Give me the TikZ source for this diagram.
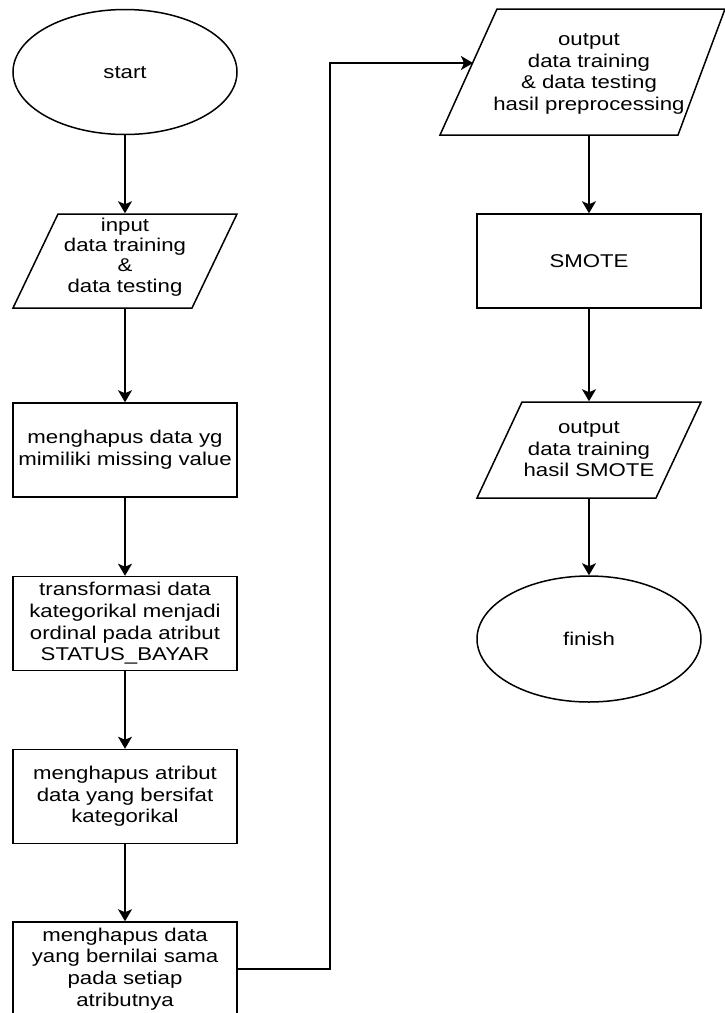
\documentclass[tikz,border=0pt]{standalone}
\usepackage{fontspec}
\setmainfont{Liberation Sans}[FakeStretch=1.2]
\usetikzlibrary{arrows.meta,shapes.geometric,calc}
\newcommand{\linestrut}{\rule[-3.9pt]{0pt}{20.6pt}}
\begin{document}
\begin{tikzpicture}[x=1pt,y=-1pt,
  line width=1.5pt,
  every node/.style={font=\fontsize{18.5}{21.7}\selectfont, align=center, inner sep=0pt, text=black,
    execute at begin node=\linestrut, execute at end node=\linestrut},
  procbox/.style={draw, rectangle, minimum width=224pt, minimum height=94pt},
  term/.style={draw, ellipse, minimum width=224pt, minimum height=125pt},
  ghost/.style={rectangle, minimum width=#1, minimum height=94pt},
  arr/.style={-{Stealth[length=12pt,width=14pt,inset=3pt]}}]
\useasboundingbox (0,0) rectangle (725,1013);
\clip (0,0) rectangle (725,1013);
\fill[white] (0,0) rectangle (725,1013);

% left column
\node[term] (start) at (125,72) {start};

\draw (58,214) -- (237,214) -- (192,308) -- (13,308) -- cycle;
\node[ghost=224pt] (in) at (125,261) {};
\node[font=\fontsize{18.5}{20.3}\selectfont] (intext) at (125,257) {input\\data training\\\&\\data testing};

\node[procbox] (r1) at (125,450) {menghapus data yg\\mimiliki missing value};
\node[procbox] (r2) at (125,623.5) {transformasi data\\kategorikal menjadi\\ordinal pada atribut\\STATUS\_BAYAR};
\node[procbox] (r3) at (125,796.5) {menghapus atribut\\data yang bersifat\\kategorikal};
\node[procbox] (r4) at (125,969) {menghapus data\\yang bernilai sama\\pada setiap\\atributnya};

% right column
\draw (497,9) -- (725,9) -- (678,135) -- (440,135) -- cycle;
\node[ghost=285pt, minimum height=126pt] (out1) at (582.5,72) {};
\node (out1text) at (589,74) {output\\data training\\\& data testing\\hasil preprocessing};
\coordinate (out1in) at (473,63);

\node[procbox] (smote) at (589,261) {SMOTE};

\draw (522,402) -- (701,402) -- (656,498) -- (477,498) -- cycle;
\node[ghost=224pt, minimum height=96pt] (out2) at (589,450) {};
\node (out2text) at (589,451) {output\\data training\\hasil SMOTE};

\node[term, minimum height=126pt] (finish) at (589,639) {finish};

% connectors
\draw[arr] (start) -- (in);
\draw[arr] (in) -- (r1);
\draw[arr] (r1) -- (r2);
\draw[arr] (r2) -- (r3);
\draw[arr] (r3) -- (r4);
\draw[arr] (r4.east) -- ++(92,0) |- (out1in);
\draw[arr] (smote.north |- out1.south) -- (smote);
\draw[arr] (smote) -- (out2);
\draw[arr] (out2) -- (finish);
\end{tikzpicture}
\end{document}
